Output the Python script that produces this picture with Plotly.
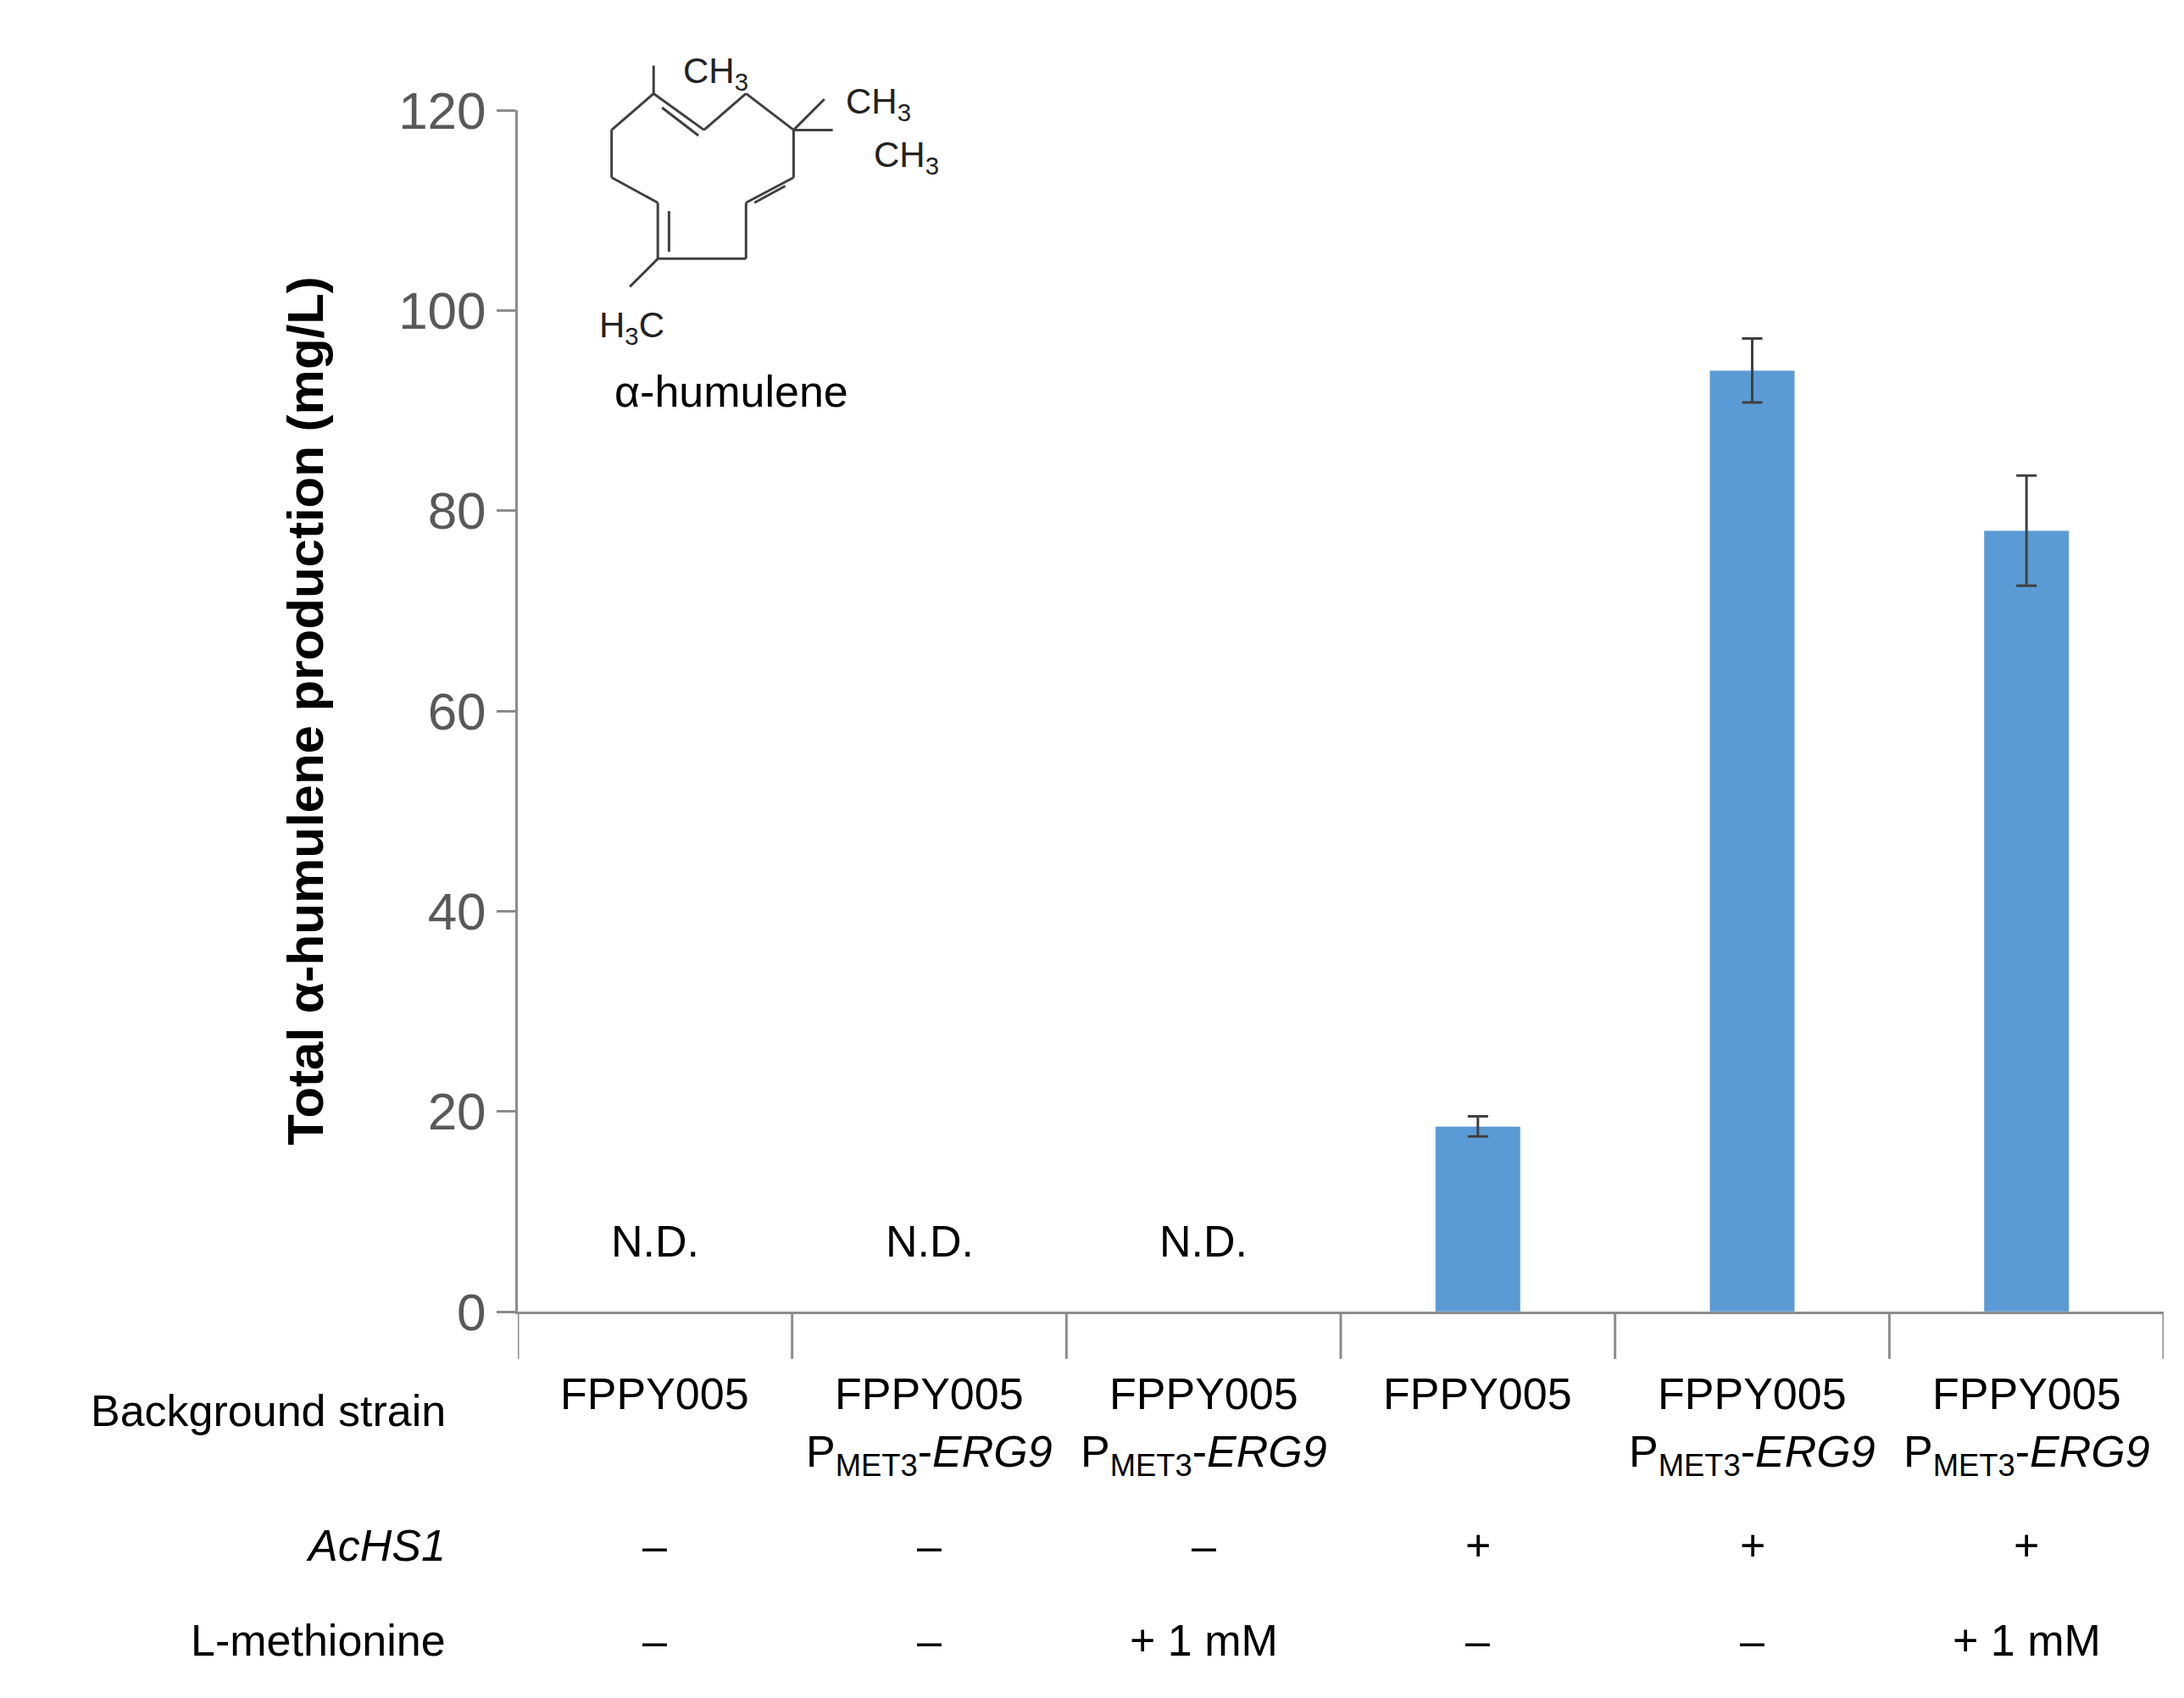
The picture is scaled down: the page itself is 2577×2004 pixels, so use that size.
import plotly.graph_objects as go

strains = ["FPPY005", "FPPY005<br>P<sub>MET3</sub>-<i>ERG9</i>", "FPPY005<br>P<sub>MET3</sub>-<i>ERG9</i>",
           "FPPY005", "FPPY005<br>P<sub>MET3</sub>-<i>ERG9</i>", "FPPY005<br>P<sub>MET3</sub>-<i>ERG9</i>"]
achs1 = ["–", "–", "–", "+", "+", "+"]
methionine = ["–", "–", "+ 1 mM", "–", "–", "+ 1 mM"]
values = [None, None, None, 18.5, 94.0, 78.0]
errors = [0, 0, 0, 1.0, 3.2, 5.5]
nd_labels = ["N.D.", "N.D.", "N.D.", "", "", ""]
yticks = [0, 20, 40, 60, 80, 100, 120]

W, H = 2577, 2004
L, R, T, B = 603, 2545, 122, 1540
S = 1.652

def px(x): return (x * S - L) / (R - L)
def py(y): return (B - y * S) / (B - T)

xs = list(range(len(strains)))
fig = go.Figure(go.Bar(x=xs, y=values, width=0.31, marker_color="#5B9BD5",
                       error_y=dict(type="data", array=errors, color="#404040", thickness=3, width=12)))

ann = []
font = dict(family="Liberation Sans, Arial", size=52, color="black")
for i in xs:
    if nd_labels[i]:
        ann.append(dict(x=i, y=7, xref="x", yref="y", text=nd_labels[i], showarrow=False, font=font))
    ann.append(dict(x=i, y=py(972), xref="x", yref="paper", text=strains[i], showarrow=False,
                    font=font, yanchor="top", align="center"))
    ann.append(dict(x=i, y=py(1118), xref="x", yref="paper", text=achs1[i], showarrow=False, font=font))
    ann.append(dict(x=i, y=py(1186), xref="x", yref="paper", text=methionine[i], showarrow=False, font=font))
ann.append(dict(x=px(315), y=py(1022), xref="paper", yref="paper", text="Background strain", showarrow=False, font=font, xanchor="right"))
ann.append(dict(x=px(315), y=py(1118), xref="paper", yref="paper", text="<i>AcHS1</i>", showarrow=False, font=font, xanchor="right"))
ann.append(dict(x=px(315), y=py(1186), xref="paper", yref="paper", text="L-methionine", showarrow=False, font=font, xanchor="right"))
ann.append(dict(x=px(433), y=py(256), xref="paper", yref="paper", text="α-humulene", showarrow=False, font=font, xanchor="left"))
sfont = dict(family="Liberation Sans, Arial", size=42, color="#222222")
for (x, y, t) in [(482, 30, "CH<sub>3</sub>"), (598, 52, "CH<sub>3</sub>"), (618, 90, "CH<sub>3</sub>"), (422, 212, "H<sub>3</sub>C")]:
    ann.append(dict(x=px(x), y=py(y), xref="paper", yref="paper", text=t, showarrow=False, font=sfont))

shapes = []
for b in [-0.5, 0.5, 1.5, 2.5, 3.5, 4.5, 5.5]:
    shapes.append(dict(type="line", xref="x", yref="paper", x0=b, x1=b, y0=0, y1=py(966),
                       line=dict(color="#8c8c8c", width=3)))
ln = dict(color="#404040", width=3)
segs = [((462, 62), (462, 42)), ((462, 62), (498, 88)), ((498, 88), (528, 62)), ((528, 62), (562, 88)),
        ((562, 88), (584, 66)), ((562, 88), (590, 88)), ((562, 88), (562, 122)), ((562, 122), (528, 140)),
        ((528, 140), (528, 180)), ((528, 180), (465, 180)), ((465, 180), (465, 140)), ((465, 140), (432, 122)),
        ((432, 122), (432, 88)), ((432, 88), (462, 62)), ((465, 180), (445, 200)),
        ((468, 72), (494, 92)), ((556, 128), (534, 140)), ((473, 175), (473, 146))]
for (a, b2) in segs:
    shapes.append(dict(type="line", xref="paper", yref="paper", x0=px(a[0]), y0=py(a[1]),
                       x1=px(b2[0]), y1=py(b2[1]), line=ln))

fig.update_layout(
    width=W, height=H, plot_bgcolor="white", paper_bgcolor="white", showlegend=False,
    margin=dict(l=L, r=W - R, t=T, b=H - B),
    annotations=ann, shapes=shapes,
    xaxis=dict(range=[-0.5, 5.5], showticklabels=False, ticks="", showline=True,
               linecolor="#8c8c8c", linewidth=3, showgrid=False, zeroline=False),
    yaxis=dict(range=[0, 120], tickvals=yticks, showline=True, linecolor="#8c8c8c", linewidth=3,
               ticks="outside", ticklen=22, tickwidth=3, tickcolor="#8c8c8c", showgrid=False, zeroline=False,
               tickfont=dict(family="Liberation Sans, Arial", size=62, color="#595959"),
               title=dict(text="<b>Total α-humulene production (mg/L)</b>", standoff=70,
                          font=dict(family="Liberation Sans, Arial", size=60, color="black"))),
)
fig.write_html("out.html")
